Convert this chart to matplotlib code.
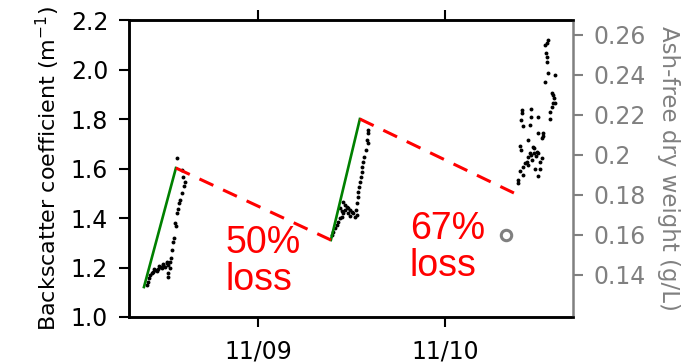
import matplotlib
matplotlib.use("Agg")
import matplotlib.pyplot as plt

# x in days: 11/09 = 1.0, 11/10 = 2.0
xtick_pos = [1.0, 2.0]
xtick_labels = ["11/09", "11/10"]
left_ticks = [1.0, 1.2, 1.4, 1.6, 1.8, 2.0, 2.2]
right_ticks = [0.14, 0.16, 0.18, 0.20, 0.22, 0.24, 0.26]
right_tick_labels = ["0.14", "0.16", "0.18", "0.2", "0.22", "0.24", "0.26"]

# backscatter points
bb_x = [0.405, 0.410, 0.417, 0.422, 0.432, 0.440, 0.449, 0.458, 0.467, 0.476, 0.485,
        0.494, 0.503, 0.512, 0.520, 0.515, 0.529, 0.520, 0.520, 0.535, 0.542, 0.547,
        0.552, 0.560, 0.556, 0.565, 0.571, 0.578, 0.583, 0.592, 0.606, 0.610, 0.601,
        0.592, 0.565, 0.529, 0.445, 0.470, 0.490,
        1.397, 1.403, 1.412, 1.421, 1.429, 1.439, 1.447, 1.456, 1.465, 1.456, 1.465,
        1.474, 1.483, 1.492, 1.501, 1.510, 1.519, 1.528, 1.483, 1.492, 1.522, 1.528,
        1.536, 1.536, 1.542, 1.545, 1.551, 1.554, 1.558, 1.563, 1.568, 1.576, 1.587,
        1.581, 1.590, 1.587, 1.440, 1.450,
        2.389, 2.392, 2.418, 2.401, 2.499, 2.508, 2.481, 2.419, 2.446, 2.428, 2.437,
        2.508, 2.517, 2.463, 2.479, 2.446, 2.453, 2.499, 2.490, 2.479, 2.472, 2.406,
        2.401, 2.446, 2.517, 2.526, 2.526, 2.499, 2.455, 2.418, 2.406, 2.460, 2.460,
        2.499, 2.413, 2.410, 2.561, 2.561, 2.571, 2.588, 2.579, 2.585, 2.579, 2.571,
        2.535, 2.588, 2.549, 2.544, 2.544, 2.538, 2.535, 2.544, 2.553, 2.466, 2.485]
bb_y = [1.129, 1.143, 1.156, 1.170, 1.179, 1.183, 1.190, 1.187, 1.193, 1.201, 1.197,
        1.210, 1.203, 1.217, 1.210, 1.224, 1.200, 1.177, 1.163, 1.237, 1.271, 1.304,
        1.318, 1.368, 1.381, 1.419, 1.435, 1.459, 1.473, 1.500, 1.529, 1.547, 1.567,
        1.594, 1.641, 1.224, 1.192, 1.205, 1.215,
        1.331, 1.345, 1.358, 1.372, 1.385, 1.399, 1.405, 1.419, 1.432, 1.466, 1.453,
        1.446, 1.439, 1.432, 1.426, 1.419, 1.405, 1.412, 1.419, 1.410, 1.432, 1.459,
        1.486, 1.506, 1.527, 1.547, 1.567, 1.587, 1.607, 1.628, 1.648, 1.675, 1.702,
        1.715, 1.742, 1.756, 1.440, 1.430,
        1.543, 1.554, 1.574, 1.591, 1.570, 1.596, 1.600, 1.607, 1.614, 1.621, 1.627,
        1.627, 1.641, 1.655, 1.664, 1.648, 1.661, 1.661, 1.668, 1.681, 1.688, 1.675,
        1.691, 1.715, 1.722, 1.730, 1.742, 1.742, 1.776, 1.772, 1.796, 1.810, 1.839,
        1.810, 1.826, 1.836, 1.802, 1.830, 1.850, 1.866, 1.863, 1.884, 1.897, 1.904,
        1.951, 1.978, 1.984, 2.032, 2.052, 2.068, 2.099, 2.109, 2.119, 1.635, 1.650]

# growth lines (green) and loss lines (red dashed)
green1_x = [0.390, 0.561]
green1_y = [1.121, 1.602]
green2_x = [1.390, 1.545]
green2_y = [1.311, 1.800]
red1_x = [0.561, 1.390]
red1_y = [1.602, 1.311]
red2_x = [1.545, 2.369]
red2_y = [1.800, 1.501]

# ash-free dry weight sample
afdw_x = [2.326]
afdw_y = [0.160]

loss_labels = ["50%\nloss", "67%\nloss"]
loss_x = [0.824, 1.813]
loss_y = [1.372, 1.430]

fig = plt.figure(figsize=(6.95, 3.64), dpi=100)
ax = fig.add_axes([129/695, 1-317/364, (573-129)/695, (317-20)/364])
ax2 = ax.twinx()

gray = "#808080"
tfont = "DejaVu Sans"

ax.plot(bb_x, bb_y, "o", color="black", markersize=2.8, markeredgewidth=0, zorder=3)
ax.plot(green1_x, green1_y, color="#008000", lw=1.9, zorder=4)
ax.plot(green2_x, green2_y, color="#008000", lw=1.9, zorder=4)
ax.plot(red1_x, red1_y, color="red", lw=2.2, dashes=(5, 3.5), zorder=4)
ax.plot(red2_x, red2_y, color="red", lw=2.2, dashes=(5, 3.5), zorder=4)
ax2.plot(afdw_x, afdw_y, "o", mfc="none", mec=gray, mew=2.2, markersize=7.5)

for t, x, y in zip(loss_labels, loss_x, loss_y):
    ax.text(x, y, t, color="red", fontsize=27, family="Liberation Sans",
            ha="left", va="top", linespacing=1.05, zorder=5)

ax.set_xlim(0.31, 2.685)
ax.set_ylim(1.0, 2.2)
ax2.set_ylim(0.119, 0.2675)

ax.set_xticks(xtick_pos)
ax.set_xticklabels(xtick_labels, family=tfont, fontsize=17)
ax.set_yticks(left_ticks)
ax.set_yticklabels([f"{v:.1f}" for v in left_ticks], family=tfont, fontsize=17)
ax2.set_yticks(right_ticks)
ax2.set_yticklabels(right_tick_labels, family=tfont, fontsize=17, color=gray)

ax.tick_params(axis="x", which="both", direction="out", length=7, width=1.5,
               top=True, bottom=True, labeltop=False, pad=9)
ax.tick_params(axis="y", direction="out", length=7, width=1.5, pad=8)
ax2.tick_params(axis="y", direction="out", length=7, width=1.5, color=gray, pad=8)

for s in ["left", "top", "bottom"]:
    ax.spines[s].set_linewidth(1.8)
    ax2.spines[s].set_linewidth(1.8)
ax2.spines["right"].set_color(gray)
ax2.spines["right"].set_linewidth(1.8)
ax.spines["right"].set_visible(False)

ax.set_ylabel("Backscatter coefficient (m$^{-1}$)", family=tfont, fontsize=16, labelpad=6)
ax2.set_ylabel("Ash-free dry weight (g/L)", family=tfont, fontsize=16.5, color=gray,
               rotation=270, labelpad=24)

fig.savefig("out.png", dpi=100)
